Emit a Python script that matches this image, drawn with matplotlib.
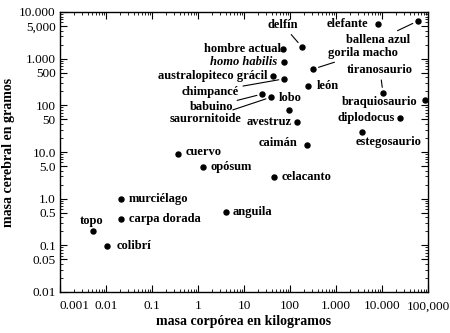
#!/usr/bin/env python3
"""Masa cerebral frente a masa corporal (escala log-log)."""
import matplotlib
matplotlib.use('Agg')
import matplotlib.pyplot as plt
from matplotlib.ticker import LogLocator, NullFormatter

animales = ['delfín', 'hombre actual', 'homo habilis', 'australopiteco grácil',
            'chimpancé', 'babuino', 'saurornitoide', 'lobo', 'avestruz',
            'caimán', 'gorila macho', 'león', 'elefante', 'ballena azul',
            'tiranosaurio', 'braquiosaurio', 'diplodocus', 'estegosaurio',
            'cuervo', 'opósum', 'celacanto', 'murciélago', 'carpa dorada',
            'topo', 'colibrí', 'anguila']
masa_corporal = [180, 70, 75, 43, 75, 25, 39, 95, 140, 235, 320, 245, 8200,
                 60000, 10500, 86000, 24600, 3700, 0.37, 1.3, 45, 0.021,
                 0.021, 0.0052, 0.0105, 4.1]
masa_cerebral = [1800, 1600, 850, 425, 370, 175, 150, 80, 44, 14, 600, 260,
                 5500, 6400, 185, 130, 54, 27, 9, 4.8, 2.9, 0.98, 0.37, 0.2,
                 0.097, 0.52]

x_ticks = [0.001, 0.01, 0.1, 1, 10, 100, 1000, 10000, 100000]
x_labels = ['0.001', '0.01', '0.1', '1', '10', '100', '1.000', '10.000',
            '100,000']
y_ticks = [10000, 5000, 1000, 500, 100, 50, 10, 5, 1, 0.5, 0.1, 0.05, 0.01]
y_labels = ['10.000', '5,000', '1.000', '500', '100', '50', '10.0', '5.0',
            '1.0', '0.5', '0.1', '0.05', '0.01']

# label placement: (dx, dy) in pixels (y up), alignment, draw a leader line
etiquetas = {
    'delfín': (-19, 22, 'center', True),
    'hombre actual': (-2, 0, 'right', False),
    'homo habilis': (-7, 0, 'right', False),
    'australopiteco grácil': (-6, 0, 'right', False),
    'chimpancé': (-74, -13, 'center', True),
    'babuino': (-51, -13, 'center', True),
    'saurornitoide': (-66, -22, 'center', True),
    'lobo': (1, 12, 'center', False),
    'avestruz': (-5, 0, 'right', False),
    'caimán': (-10, 2, 'right', False),
    'gorila macho': (15, 16, 'left', True),
    'león': (9, 0, 'left', False),
    'elefante': (-10, 0, 'right', False),
    'ballena azul': (-40, -19, 'center', True),
    'tiranosaurio': (-3, 23, 'center', True),
    'braquiosaurio': (-8, -2, 'right', False),
    'diplodocus': (-5, 0, 'right', False),
    'estegosaurio': (26, -10, 'center', False),
    'cuervo': (7, 2, 'left', False),
    'opósum': (7, 0, 'left', False),
    'celacanto': (8, 0, 'left', False),
    'murciélago': (8, 0, 'left', False),
    'carpa dorada': (8, 0, 'left', False),
    'topo': (-1, 10, 'center', False),
    'colibrí': (10, 0, 'left', False),
    'anguila': (6, 0, 'left', False),
}

plt.rcParams['font.family'] = ['Liberation Serif', 'DejaVu Serif']
fig = plt.figure(figsize=(4.5, 3.33), dpi=100)
ax = fig.add_axes([60 / 450, 1 - 292 / 333, 368 / 450, 280 / 333])

ax.plot(masa_corporal, masa_cerebral, 'o', color='black', markersize=3.6,
        linestyle='none')
ax.set_xscale('log')
ax.set_yscale('log')
ax.set_xlim(0.001, 100000)
ax.set_ylim(0.01, 10000)

for nombre, x, y in zip(animales, masa_corporal, masa_cerebral):
    dx, dy, ha, linea = etiquetas[nombre]
    estilo = 'italic' if nombre == 'homo habilis' else 'normal'
    props = None
    if linea:
        props = dict(arrowstyle='-', color='black', lw=0.8,
                     shrinkA=1, shrinkB=4)
    ax.annotate(nombre, (x, y), xytext=(dx, dy), textcoords='offset pixels',
                ha=ha, va='center', fontsize=9, fontweight='bold',
                fontstyle=estilo, arrowprops=props)

ax.set_xticks(x_ticks)
ax.set_xticklabels(x_labels)
ax.set_yticks(y_ticks)
ax.set_yticklabels(y_labels)
ax.xaxis.get_ticklabels()[0].set_horizontalalignment('left')
ax.xaxis.set_minor_locator(LogLocator(base=10, subs=range(2, 10), numticks=20))
ax.yaxis.set_minor_locator(LogLocator(base=10, subs=range(2, 10), numticks=20))
ax.xaxis.set_minor_formatter(NullFormatter())
ax.yaxis.set_minor_formatter(NullFormatter())
ax.tick_params(which='both', direction='in', top=True, right=True,
               labelsize=9.5)
ax.tick_params(axis='x', pad=6)
ax.tick_params(axis='y', pad=3)
ax.tick_params(which='major', length=5, width=0.8)
ax.tick_params(which='minor', length=2.5, width=0.6)
for s in ax.spines.values():
    s.set_linewidth(1.0)

ax.set_xlabel('masa corpórea en kilogramos', fontsize=10, fontweight='bold',
              labelpad=2)
ax.set_ylabel('masa cerebral en gramos', fontsize=10, fontweight='bold',
              labelpad=3)

fig.savefig('out.png', dpi=100)
